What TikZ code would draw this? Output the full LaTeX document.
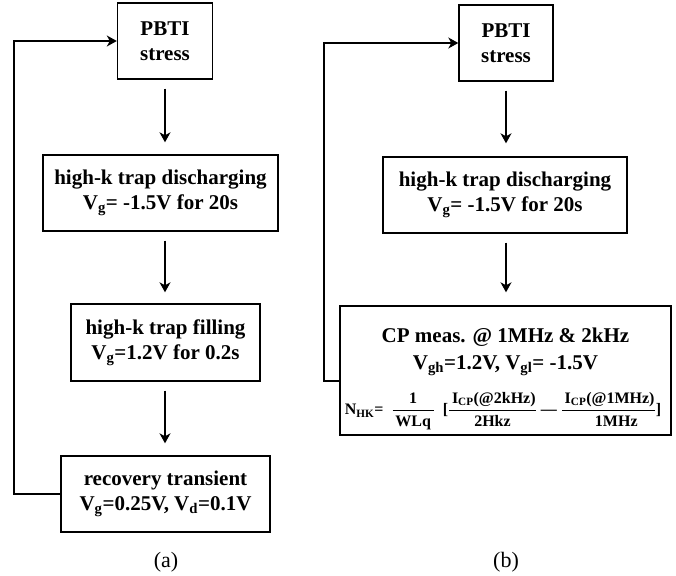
\documentclass[tikz,border=0pt]{standalone}
\usepackage{fontspec}
\setmainfont{Liberation Serif}
\usepackage{amsmath}
\usetikzlibrary{arrows.meta}
\begin{document}
\begin{tikzpicture}[x=1pt,y=-1pt,
  box/.style={draw=black,line width=1.4pt,align=center,inner sep=0pt,
    font=\bfseries\fontsize{21}{25}\selectfont,text=black},
  arr/.style={line width=1.3pt,-{Stealth[length=10pt,width=11pt,inset=3pt]}},
  loopline/.style={line width=1.3pt},
  captext/.style={font=\fontsize{22}{26}\selectfont}]
\useasboundingbox (0,0) rectangle (676,575);
% panel (a)
\node[box,minimum width=95pt,minimum height=76pt] (pa) at (165,41) {PBTI\\stress};
\node[box,minimum width=235pt,minimum height=76pt] (da) at (160.5,193) {high-k trap discharging\\V\textsubscript{g}= -1.5V for 20s};
\node[box,minimum width=189pt,minimum height=77pt] (fa) at (165.5,342.5) {high-k trap filling\\V\textsubscript{g}=1.2V for 0.2s};
\node[box,minimum width=209pt,minimum height=76pt] (ra) at (165.5,494) {recovery transient\\V\textsubscript{g}=0.25V, V\textsubscript{d}=0.1V};
\draw[arr,shorten <=9pt,shorten >=12pt] (pa.south) -- (pa.south |- da.north);
\draw[arr,shorten <=9pt,shorten >=11pt] (pa.south |- da.south) -- (pa.south |- fa.north);
\draw[arr,shorten <=9pt,shorten >=12pt] (pa.south |- fa.south) -- (pa.south |- ra.north);
\coordinate (la) at (14,0);
\draw[loopline,arr] (ra.west) -- (la |- ra.west) -- (la |- pa.west) -- (pa.west);
\node[captext] (capa) at (166,562) {(a)};
% panel (b)
\node[box,minimum width=94pt,minimum height=76pt] (pb) at (506,43) {PBTI\\stress};
\node[box,minimum width=244pt,minimum height=76pt] (db) at (505,195) {high-k trap discharging\\V\textsubscript{g}= -1.5V for 20s};
\node[box,minimum width=331pt,minimum height=129pt] (cp) at (505.5,370.5) {};
\node[font=\bfseries\fontsize{21}{27}\selectfont,align=center,text=black] (cpt) at (505.5,352) {CP meas. @ 1MHz \& 2kHz\\V\textsubscript{gh}=1.2V, V\textsubscript{gl}= -1.5V};
\node[font=\bfseries\fontsize{16}{18}\selectfont,text=black,inner sep=0pt] (nhk) at (503,411)
  {N\textsubscript{HK}= \ $\displaystyle\frac{\text{\,\,1\,\,}}{\text{\,WLq\,}}$\ \ [$\displaystyle\frac{\text{\,I\textsubscript{CP}(@2kHz)}}{\text{2Hkz}}$ --- $\displaystyle\frac{\text{\,I\textsubscript{CP}(@1MHz)}}{\text{\quad1MHz}}$]};
\draw[arr,shorten <=9pt,shorten >=13pt] (pb.south) -- (pb.south |- db.north);
\draw[arr,shorten <=9pt,shorten >=13pt] (pb.south |- db.south) -- (pb.south |- cp.north);
\coordinate (lb) at (324,381);
\draw[loopline,arr] (lb -| cp.west) -- (lb) -- (lb |- pb.west) -- (pb.west);
\node[captext] (capb) at (506,562) {(b)};
\end{tikzpicture}
\end{document}
